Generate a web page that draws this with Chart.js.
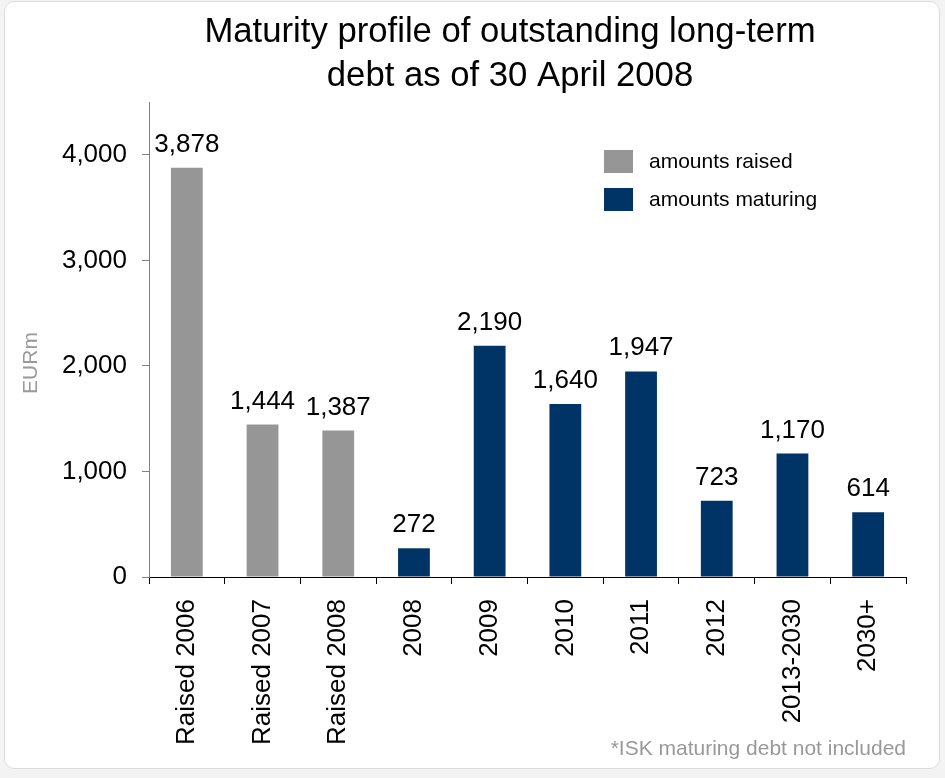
<!DOCTYPE html>
<html>
<head>
<meta charset="utf-8">
<script src="https://cdn.jsdelivr.net/npm/chart.js@4/dist/chart.umd.min.js"></script>
<style>
    html, body { margin: 0; padding: 0; background: #f3f3f3; }
    #card {
        position: absolute; left: 4px; top: 1px; width: 936px; height: 768px;
        box-sizing: border-box; border: 1px solid #dcdcdc; border-radius: 10px; background: #fff;
    }
    #chart { position: absolute; left: 0; top: 0; }
</style>
</head>
<body>
<div id="card"></div>
<canvas id="chart" width="945" height="778"></canvas>
<script>
const categories = ['Raised 2006', 'Raised 2007', 'Raised 2008', '2008', '2009', '2010', '2011', '2012', '2013-2030', '2030+'];
const amountsRaised = [3878, 1444, 1387, null, null, null, null, null, null, null];
const amountsMaturing = [null, null, null, 272, 2190, 1640, 1947, 723, 1170, 614];
const yTicks = [0, 1000, 2000, 3000, 4000];

const titleLines = ['Maturity profile of outstanding long-term', 'debt as of 30 April 2008'];
const yTitle = 'EURm';
const footnote = '*ISK maturing debt not included';

const FONT = "'Liberation Sans', Arial, sans-serif";
const fmt = v => v.toLocaleString('en-US');

// title, axis title, legend, footnote and value labels
const decorations = {
    id: 'decorations',
    afterDatasetsDraw(chart) {
        const ctx = chart.ctx;
        ctx.save();

        // value labels above bars
        ctx.fillStyle = '#000';
        ctx.font = '26px ' + FONT;
        ctx.textAlign = 'center';
        ctx.textBaseline = 'alphabetic';
        chart.data.datasets.forEach((ds, i) => {
            const meta = chart.getDatasetMeta(i);
            meta.data.forEach((bar, j) => {
                if (ds.data[j] == null) return;
                ctx.fillText(fmt(ds.data[j]), bar.x, bar.y - 16);
            });
        });

        // title
        ctx.font = '34.7px ' + FONT;
        ctx.fillText(titleLines[0], 510, 42);
        ctx.fillText(titleLines[1], 510, 86);

        // y axis title
        ctx.save();
        ctx.translate(31, 363);
        ctx.rotate(-Math.PI / 2);
        ctx.fillStyle = '#999';
        ctx.font = '21px ' + FONT;
        ctx.textBaseline = 'middle';
        ctx.fillText(yTitle, 0, 0);
        ctx.restore();

        // legend
        ctx.font = '21px ' + FONT;
        ctx.textAlign = 'left';
        ctx.textBaseline = 'middle';
        chart.data.datasets.forEach((ds, i) => {
            const y = 150 + i * 38;
            ctx.fillStyle = ds.backgroundColor;
            ctx.fillRect(604, y, 29, 23);
            ctx.fillStyle = '#000';
            ctx.fillText(ds.label, 649, y + 12);
        });

        // footnote
        ctx.fillStyle = '#999';
        ctx.textAlign = 'right';
        ctx.textBaseline = 'alphabetic';
        ctx.fillText(footnote, 906, 755);

        ctx.restore();
    }
};

new Chart(document.getElementById('chart'), {
    type: 'bar',
    data: {
        labels: categories,
        datasets: [
            { label: 'amounts raised', data: amountsRaised, backgroundColor: '#969696' },
            { label: 'amounts maturing', data: amountsMaturing, backgroundColor: '#003366' }
        ]
    },
    options: {
        responsive: false,
        devicePixelRatio: 1,
        animation: false,
        grouped: false,
        barPercentage: 0.42,
        categoryPercentage: 1,
        layout: { padding: { top: 102, right: 39, left: 0, bottom: 0 } },
        plugins: {
            legend: { display: false },
            title: { display: false },
            tooltip: { enabled: false }
        },
        scales: {
            x: {
                grid: { offset: true, drawOnChartArea: false, drawTicks: true, tickLength: 7, color: '#000' },
                border: { color: '#000' },
                ticks: {
                    autoSkip: false, minRotation: 90, maxRotation: 90, padding: 15,
                    color: '#000', font: { size: 26, family: FONT }
                },
                afterFit: s => { s.height = 201; }
            },
            y: {
                min: 0,
                max: 4500,
                grid: { drawOnChartArea: false, tickLength: 7, color: '#808080' },
                border: { color: '#808080' },
                ticks: {
                    stepSize: 1000, padding: 15, color: '#000',
                    font: { size: 26, family: FONT },
                    callback: v => fmt(v)
                },
                afterBuildTicks: s => { s.ticks = yTicks.map(v => ({ value: v })); },
                afterFit: s => { s.width = 149; }
            }
        }
    },
    plugins: [decorations]
});
</script>
</body>
</html>
